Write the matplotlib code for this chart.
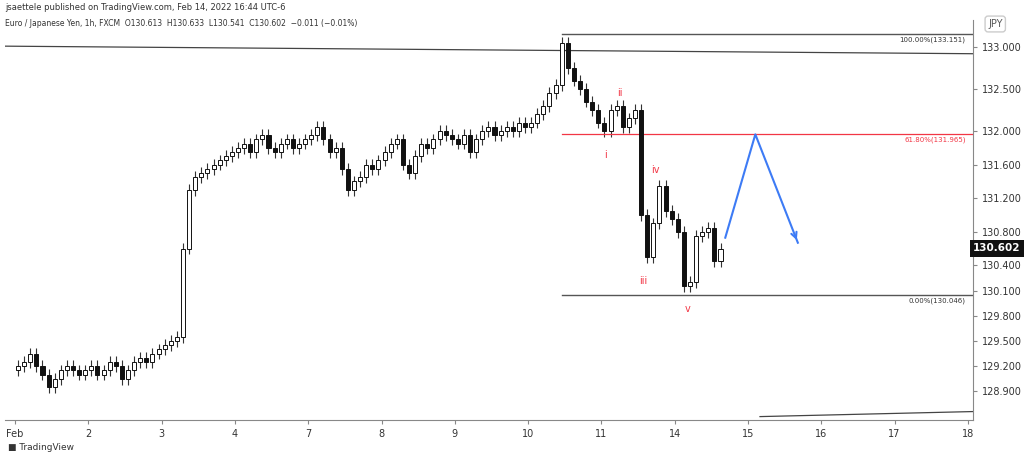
import matplotlib
matplotlib.use("Agg")
import matplotlib.pyplot as plt
import numpy as np

closes = [
 129.2,129.25,129.35,129.2,129.1,128.95,129.05,129.15,129.2,129.15,129.1,129.15,
 129.2,129.1,129.15,129.25,129.2,129.05,129.15,129.25,129.3,129.25,129.35,129.4,
 129.45,129.5,129.55,130.6,131.3,131.45,131.5,131.55,131.6,131.65,131.7,131.75,
 131.8,131.85,131.75,131.9,131.95,131.8,131.75,131.85,131.9,131.8,131.85,131.9,
 131.95,132.05,131.9,131.75,131.8,131.55,131.3,131.4,131.45,131.6,131.55,131.65,
 131.75,131.85,131.9,131.6,131.5,131.7,131.85,131.8,131.9,132.0,131.95,131.9,
 131.85,131.95,131.75,131.9,132.0,132.05,131.95,132.0,132.05,132.0,132.1,132.05,
 132.1,132.2,132.3,132.45,132.55,133.05,132.75,132.6,132.5,132.35,132.25,132.1,
 132.0,132.25,132.3,132.05,132.15,132.25,131.0,130.5,130.9,131.35,131.05,130.95,
 130.8,130.15,130.2,130.75,130.8,130.85,130.45,130.6]
first_open = 129.15
wick = 0.07
day_labels = ["Feb","2","3","4","7","8","9","10","11","14","15","16","17","18"]
yticks = [133.0,132.5,132.0,131.6,131.2,130.8,130.4,130.1,129.8,129.5,129.2,128.9]
fib_hi, fib_lo, fib_618 = 133.151, 130.046, 131.965
wave_labels = ["i","ii","iii","iv","v"]
wave_x = [8.06, 8.25, 8.57, 8.73, 9.18]
wave_y = [131.72, 132.45, 130.22, 131.53, 129.88]
proj_x = [9.69, 10.1, 10.68]
proj_y = [130.73, 131.96, 130.67]
last = 130.602

W, H = 1024, 458
fig = plt.figure(figsize=(W/100, H/100), dpi=100)
ax = fig.add_axes([5/W, (H-420)/H, (973-5)/W, (420-20)/H])
ppd = 73.3
x0 = (5-15)/ppd; x1 = (973-15)/ppd
ax.set_xlim(x0, x1)
top = 133 + 27/84; bot = 133 - 373/84
ax.set_ylim(bot, top)

n = len(closes)
xs = np.arange(n)/12.0 + 1/24
opens = [first_open] + closes[:-1]
for x, o, c in zip(xs, opens, closes):
    hi = max(o, c) + wick; lo = min(o, c) - wick
    ax.vlines(x, lo, hi, color="#333333", lw=0.8, zorder=2)
    face = "white" if c >= o else "#111111"
    ax.bar(x, abs(c-o) if abs(c-o) > 0.01 else 0.01, bottom=min(o, c), width=0.055,
           color=face, edgecolor="#111111", lw=0.7, zorder=3)

xf0 = (562-15)/ppd
ax.plot([xf0, x1], [fib_hi, fib_hi], color="#555555", lw=1)
ax.plot([xf0, x1], [fib_lo, fib_lo], color="#555555", lw=1)
ax.plot([xf0, x1], [fib_618, fib_618], color="#f23645", lw=0.9)
ax.text(x1-0.1, fib_hi-0.03, "100.00%(133.151)", fontsize=5, ha="right", va="top", color="#333")
ax.text(x1-0.1, fib_lo-0.03, "0.00%(130.046)", fontsize=5, ha="right", va="top", color="#333")
ax.text(x1-0.1, fib_618-0.03, "61.80%(131.965)", fontsize=5, ha="right", va="top", color="#f23645")
ax.plot([x0, x1], [133.01, 132.92], color="#444444", lw=0.9)
ax.plot([(760-15)/ppd, x1], [128.6, 128.66], color="#444444", lw=0.9)
for t, x, y in zip(wave_labels, wave_x, wave_y):
    ax.text(x, y, t, color="#f23645", fontsize=7, ha="center", va="center")
ax.plot(proj_x, proj_y, color="#3d7bf5", lw=1.5)
ax.annotate("", xy=(proj_x[2], proj_y[2]), xytext=(proj_x[2]-0.05, proj_y[2]+0.11),
            arrowprops=dict(arrowstyle="->", color="#3d7bf5", lw=1.5, mutation_scale=10))

ax.set_xticks(range(len(day_labels)))
ax.set_xticklabels(day_labels, fontsize=7, color="#333")
ax.yaxis.tick_right()
ax.set_yticks(yticks)
ax.set_yticklabels([f"{v:.3f}" for v in yticks], fontsize=7, color="#333")
ax.tick_params(length=3, color="#888")
for s in ["top", "left"]:
    ax.spines[s].set_visible(False)
for s in ["right", "bottom"]:
    ax.spines[s].set_color("#888")
ax.text(1.0, last, f"{last:.3f}", transform=ax.get_yaxis_transform(), fontsize=7.5,
        color="white", va="center", ha="left", fontweight="bold",
        bbox=dict(boxstyle="square,pad=0.3", fc="#111111", ec="none"))
fig.text(988/W, 1-24/H, "JPY", fontsize=7, color="#555", ha="left", va="center",
         bbox=dict(boxstyle="round,pad=0.3", fc="white", ec="#ccc"))
fig.text(5/W, 1-8/H, "jsaettele published on TradingView.com, Feb 14, 2022 16:44 UTC-6",
         fontsize=6, color="#333", va="center")
fig.text(5/W, 1-23/H, "Euro / Japanese Yen, 1h, FXCM  O130.613  H130.633  L130.541  C130.602  \u22120.011 (\u22120.01%)",
         fontsize=5.5, color="#333", va="center")
fig.text(8/W, 1-448/H, "\u25a0 TradingView", fontsize=6.5, color="#333", va="center")
fig.savefig("out.png", dpi=100)
